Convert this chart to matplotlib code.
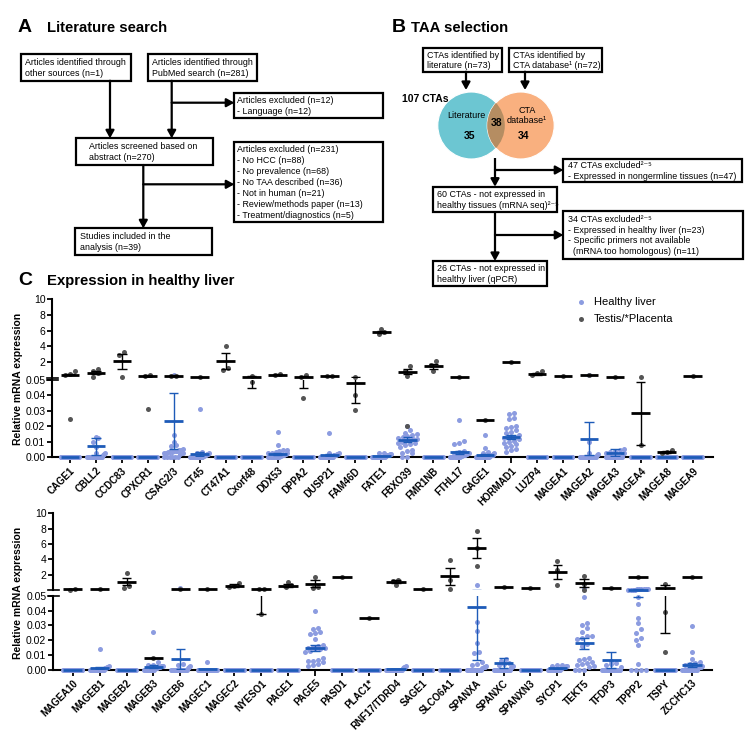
import matplotlib
matplotlib.use("Agg")  # headless
import matplotlib.pyplot as plt
import numpy as np
from matplotlib.patches import Rectangle, Circle

plt.rcParams["font.family"] = ["Liberation Sans", "DejaVu Sans"]

W, H = 755, 737

# ---------------- data: panel C, upper chart ----------------
cats_top = ["CAGE1", "CBLL2", "CCDC83", "CPXCR1", "CSAG2/3", "CT45", "CT47A1", "Cxorf48",
            "DDX53", "DPPA2", "DUSP21", "FAM46D", "FATE1", "FBXO39", "FMR1NB", "FTHL17",
            "GAGE1", "HORMAD1", "LUZP4", "MAGEA1", "MAGEA2", "MAGEA3", "MAGEA4", "MAGEA8", "MAGEA9"]

# healthy liver samples above zero (the rest of the n_liver samples are 0)
liver_top = [
    [],
    [0.0133, 0.0122, 0.0100, 0.0065, 0.0030, 0.0025, 0.0020, 0.0015],
    [],
    [],
    [0.43, 0.0145, 0.0100, 0.0082, 0.0070, 0.0052, 0.0046, 0.0044, 0.0042, 0.0040, 0.0038,
     0.0036, 0.0034, 0.0032, 0.0030, 0.0028, 0.0025, 0.0022],
    [0.031, 0.0035, 0.0030, 0.0025, 0.0022, 0.0020, 0.0016, 0.0014, 0.0010, 0.0010],
    [],
    [],
    [0.0166, 0.0082, 0.0050, 0.0045, 0.0040, 0.0035, 0.0030, 0.0028, 0.0025, 0.0020, 0.0018,
     0.0015, 0.0012, 0.0010],
    [],
    [0.0155, 0.0028, 0.0025, 0.0022, 0.0020, 0.0016, 0.0014, 0.0012, 0.0010],
    [],
    [0.0030, 0.0026, 0.0022, 0.0020, 0.0016, 0.0014, 0.0012, 0.0010],
    [0.0202, 0.0176, 0.0155, 0.0148, 0.0142, 0.0135, 0.0130, 0.0125, 0.0120, 0.0115, 0.0110,
     0.0105, 0.0100, 0.0095, 0.0090, 0.0085, 0.0080, 0.0065, 0.0050, 0.0040, 0.0030, 0.0025],
    [],
    [0.0240, 0.0105, 0.0092, 0.0085, 0.0040, 0.0032, 0.0028, 0.0025, 0.0022, 0.0020, 0.0016,
     0.0014, 0.0012, 0.0010],
    [0.0144, 0.0058, 0.0037, 0.0030, 0.0025, 0.0020, 0.0018, 0.0015, 0.0012, 0.0010],
    [0.0284, 0.0277, 0.0252, 0.0245, 0.0204, 0.0198, 0.0187, 0.0176, 0.0166, 0.0155, 0.0144,
     0.0133, 0.0127, 0.0122, 0.0116, 0.0107, 0.0101, 0.0095, 0.0085, 0.0075, 0.0065, 0.0055,
     0.0045, 0.0035],
    [],
    [],
    [0.35, 0.0100, 0.0026, 0.0020, 0.0015],
    [0.0052, 0.0047, 0.0040, 0.0035, 0.0030, 0.0025, 0.0020],
    [],
    [],
    [],
]
liver_mean_top = [0, 0.0070, 0, 0, 0.0232, 0.0020, 0, 0, 0.0022, 0, 0.0013, 0, 0.0007, 0.0112,
                  0, 0.0032, 0.0015, 0.0129, 0, 0, 0.0120, 0.0030, 0, 0, 0]
liver_sem_top = [0, 0.0053, 0, 0, 0.0180, 0.0013, 0, 0, 0.0008, 0, 0.0007, 0, 0.0002, 0.0016,
                 0, 0.0011, 0.0006, 0.0013, 0, 0, 0.0108, 0.0021, 0, 0, 0]

testis_top = [
    [0.025, 0.43, 0.55, 0.85], [0.17, 0.6, 0.94, 1.15], [0.1, 2.86, 3.3], [0.031, 0.2, 0.34],
    [0.2, 0.3], [0.17], [0.95, 1.3, 4.1], [0.0488, 0.2], [0.4, 0.45], [0.0385, 0.17, 0.34],
    [0.3, 0.3], [0.0303, 0.04, 0.13], [5.6, 5.85, 6.2], [0.0204, 0.3, 0.94, 1.45],
    [0.94, 1.7, 2.14], [0.17], [0.0243], [1.97], [0.43, 0.6, 0.94], [0.26], [0.43], [0.17],
    [0.008, 0.085], [0.0026, 0.0032, 0.0047], [0.26],
]
testis_mean_top = [0.43, 0.68, 2.1, 0.26, 0.26, 0.17, 2.14, 0.13, 0.43, 0.17, 0.3, 0.0477, 5.85,
                   0.77, 1.45, 0.17, 0.0243, 1.97, 0.51, 0.26, 0.43, 0.17, 0.0284, 0.0032, 0.26]
testis_sem_top = [0.1, 0.2, 1.0, 0.1, 0.05, 0, 1.05, 0.085, 0.02, 0.125, 0, 0.0129, 0.18, 0.33,
                  0.35, 0, 0, 0, 0.15, 0, 0, 0, 0.0202, 0.0006, 0]

# ---------------- data: panel C, lower chart ----------------
cats_bot = ["MAGEA10", "MAGEB1", "MAGEB2", "MAGEB3", "MAGEB6", "MAGEC1", "MAGEC2", "NYESO1",
            "PAGE1", "PAGE5", "PASD1", "PLAC1*", "RNF17/TDRD4", "SAGE1", "SLCO6A1", "SPANXA",
            "SPANXC", "SPANXN3", "SYCP1", "TEKT5", "TFDP3", "TPPP2", "TSPY", "ZCCHC13"]

liver_bot = [
    [],
    [0.0140, 0.0025, 0.0020, 0.0018, 0.0015, 0.0012, 0.0010],
    [],
    [0.0257, 0.0054, 0.0032, 0.0030, 0.0027, 0.0025, 0.0022, 0.0020, 0.0018, 0.0016, 0.0014,
     0.0012, 0.0010],
    [0.30, 0.0036, 0.0030, 0.0022, 0.0015, 0.0010],
    [0.0052],
    [],
    [],
    [],
    [0.0396, 0.0283, 0.0273, 0.0258, 0.0250, 0.0245, 0.0205, 0.0165, 0.0158, 0.0152, 0.0148,
     0.0145, 0.0142, 0.0138, 0.0130, 0.0118, 0.0078, 0.0068, 0.0060, 0.0058, 0.0050, 0.0042,
     0.0030, 0.0025],
    [],
    [],
    [0.0025, 0.0020, 0.0015, 0.0010],
    [],
    [],
    [0.69, 0.0325, 0.0264, 0.0183, 0.0122, 0.0110, 0.0050, 0.0040, 0.0030, 0.0025, 0.0020,
     0.0015, 0.0010],
    [0.0072, 0.0060, 0.0045, 0.0036, 0.0030, 0.0025, 0.0020, 0.0015],
    [],
    [0.0032, 0.0030, 0.0028, 0.0025, 0.0022, 0.0020, 0.0018, 0.0015, 0.0012, 0.0010],
    [0.30, 0.049, 0.0314, 0.0302, 0.0282, 0.0256, 0.0228, 0.0225, 0.0218, 0.0205, 0.0172,
     0.0163, 0.0077, 0.0072, 0.0068, 0.0054, 0.0045, 0.0036, 0.0030, 0.0025, 0.0020],
    [0.0060, 0.0045, 0.0036, 0.0030, 0.0020],
    [0.20, 0.16, 0.13, 0.11, 0.10, 0.09, 0.08, 0.07, 0.065, 0.06, 0.0495, 0.0445, 0.0348,
     0.0319, 0.0274, 0.0247, 0.0215, 0.0200, 0.0167, 0.0039],
    [],
    [0.0298, 0.0122, 0.0072, 0.0054, 0.0045, 0.0036, 0.0030, 0.0025, 0.0020, 0.0015, 0.0010],
]
liver_mean_bot = [0, 0.0010, 0, 0.0020, 0.0072, 0.0002, 0, 0, 0, 0.0145, 0, 0, 0.0003, 0, 0,
                  0.0425, 0.0047, 0, 0.0010, 0.0179, 0.0068, 0.075, 0, 0.0032]
liver_sem_bot = [0, 0.0006, 0, 0.0010, 0.0066, 0.0002, 0, 0, 0, 0.0020, 0, 0, 0.0001, 0, 0,
                 0.036, 0.0034, 0, 0.0002, 0.0036, 0.0054, 0.026, 0, 0.0013]

testis_bot = [
    [0.08, 0.1], [0.16], [0.34, 0.6, 2.2], [0.0079], [0.16], [0.16], [0.45, 0.6, 0.9],
    [0.0375, 0.12, 0.2], [0.43, 0.69, 1.03], [0.34, 0.47, 1.7], [1.69], [0.0348],
    [0.69, 1.25, 1.37], [0.16], [0.16, 1.38, 3.96], [3.2, 5.48, 7.7], [0.38], [0.34],
    [0.69, 2.57, 3.8], [0.08, 0.82, 1.82], [0.25], [1.73], [0.0118, 0.039, 0.77], [1.65],
]
testis_mean_bot = [0.09, 0.16, 1.12, 0.0079, 0.16, 0.16, 0.6, 0.12, 0.6, 0.86, 1.69, 0.0348,
                   1.12, 0.16, 1.82, 5.48, 0.38, 0.34, 2.35, 0.95, 0.25, 1.73, 0.34, 1.65]
testis_sem_bot = [0.01, 0, 0.5, 0, 0, 0, 0.15, 0.0825, 0.15, 0.4, 0, 0, 0.2, 0, 1.1, 1.3, 0, 0,
                  0.9, 0.5, 0, 0, 0.315, 0]

n_liver = 24
BREAK = 0.05

LIVER_DOT = "#8c9ce0"
LIVER_LINE = "#1d5bb8"
TESTIS_DOT = "#555555"
TESTIS_LINE = "black"


def px_axes(fig, left, top, right, bottom):
    """add axes from pixel box (y measured from the top)"""
    return fig.add_axes([left / W, 1 - bottom / H, (right - left) / W, (bottom - top) / H])


def swarm(vals, to_px, d_px, px_per_cat, half=0.36):
    """simple column-scatter layout: bin close values into rows and spread each row"""
    vals = np.asarray(vals, float)
    ypx = np.array([to_px(v) for v in vals])
    order = np.argsort(ypx, kind="stable")
    rows = []
    for i in order:
        if rows and ypx[i] - ypx[rows[-1][0]] < d_px * 0.8:
            rows[-1].append(i)
        else:
            rows.append([i])
    offs = np.zeros(len(vals))
    for row in rows:
        n = len(row)
        step = d_px / px_per_cat
        if n > 1:
            step = min(step, 2 * half / (n - 1))
        for k, i in enumerate(row):
            offs[i] = (k - (n - 1) / 2) * step
    return offs


def draw_group(ax_t, ax_b, i, vals, mean, sem, dot_c, line_c, to_px, px_per_cat, lw_mean):
    vals = np.asarray(vals, float)
    offs = swarm(vals, to_px, 5.0, px_per_cat)
    x = i + offs
    lo = vals <= BREAK
    h1 = ax_b.scatter(x[lo], vals[lo], s=13, color=dot_c, lw=0, clip_on=False, zorder=3)
    ax_t.scatter(x[~lo], vals[~lo], s=13, color=dot_c, lw=0, clip_on=False, zorder=3)
    # mean line
    ax_m = ax_b if mean <= BREAK else ax_t
    ax_m.hlines(mean, i - 0.36, i + 0.36, color=line_c, lw=lw_mean, clip_on=False, zorder=4)
    if sem > 0:
        lo_v, hi_v = max(mean - sem, 0), mean + sem
        for ax in (ax_t, ax_b):
            ax.vlines(i, lo_v, hi_v, color=line_c, lw=1.0, zorder=4)
        for v in (lo_v, hi_v):
            ax_c = ax_b if v <= BREAK else ax_t
            ax_c.hlines(v, i - 0.18, i + 0.18, color=line_c, lw=1.0, zorder=4)
    return h1


def expression_chart(fig, box, gap, cats, liver, liver_mean, liver_sem,
                     testis, testis_mean, testis_sem, xlim):
    left, top, right, bottom, mid = box
    ax_t = px_axes(fig, left, top, right, mid)
    ax_b = px_axes(fig, left, mid + gap, right, bottom)
    h_top = mid - top
    h_bot = bottom - mid - gap
    px_per_cat = (right - left) / (xlim[1] - xlim[0])

    def to_px(v):
        if v <= BREAK:
            return v / BREAK * h_bot
        return h_bot + gap + v / 10 * h_top

    handles = None
    for i in range(len(cats)):
        vals = list(liver[i]) + [0.0] * (n_liver - len(liver[i]))
        hl = draw_group(ax_t, ax_b, i, vals, liver_mean[i], liver_sem[i],
                        LIVER_DOT, LIVER_LINE, to_px, px_per_cat, 2.0)
        ht = draw_group(ax_t, ax_b, i, testis[i], testis_mean[i], testis_sem[i],
                        TESTIS_DOT, TESTIS_LINE, to_px, px_per_cat, 2.0)
        if handles is None:
            handles = (hl, ht)

    for ax in (ax_t, ax_b):
        ax.set_xlim(*xlim)
        ax.spines[["top", "right"]].set_visible(False)
        ax.spines["left"].set_linewidth(1.5)
        ax.spines["bottom"].set_linewidth(1.5)
        ax.tick_params(axis="y", length=3.5, width=1.3, labelsize=7.5, pad=1.5)
    ax_t.set_ylim(BREAK, 10)
    ax_t.set_yticks([2, 4, 6, 8, 10])
    ax_t.spines["bottom"].set_visible(False)
    ax_t.tick_params(axis="x", bottom=False, labelbottom=False)
    ax_b.set_ylim(0, BREAK)
    ax_b.set_yticks([0, 0.01, 0.02, 0.03, 0.04, 0.05])
    ax_b.set_yticklabels(["0.00", "0.01", "0.02", "0.03", "0.04", "0.05"])
    ax_b.set_xticks(range(len(cats)))
    ax_b.set_xticklabels(cats, rotation=45, ha="right", va="top", rotation_mode="anchor",
                         fontsize=7, fontweight="bold")
    ax_b.tick_params(axis="x", length=4, width=1.3, pad=2)
    # axis break marks
    for ax, yy in ((ax_t, 0.0), (ax_b, 1.0)):
        ax.plot([-0.008, 0.008], [yy, yy], transform=ax.transAxes, color="black",
                lw=1.2, clip_on=False)
    return handles


fig = plt.figure(figsize=(W / 100, H / 100), dpi=100)

# ---------------- flow charts (panels A and B) in pixel coordinates ----------------
ax0 = fig.add_axes([0, 0, 1, 1])
ax0.set_xlim(0, W)
ax0.set_ylim(H, 0)
ax0.axis("off")

BOX_FS = 6.4


def box(x0, y0, x1, y1, text, pad=4):
    ax0.add_patch(Rectangle((x0, y0), x1 - x0, y1 - y0, fill=False, lw=1.6, ec="black"))
    ax0.text(x0 + pad, (y0 + y1) / 2 + 0.5, text, fontsize=BOX_FS, ha="left", va="center",
             linespacing=1.28)


def arrow(x0, y0, x1, y1):
    ax0.annotate("", xy=(x1, y1), xytext=(x0, y0),
                 arrowprops=dict(arrowstyle="-|>,head_length=0.45,head_width=0.25",
                                 lw=1.6, color="black", shrinkA=0, shrinkB=0,
                                 mutation_scale=10))


def line(x0, y0, x1, y1):
    ax0.plot([x0, x1], [y0, y1], color="black", lw=1.6, solid_capstyle="butt")


# panel A
fig.text(18 / W, 1 - 27 / H, "A", fontsize=14, fontweight="bold", va="center")
fig.text(47 / W, 1 - 28 / H, "Literature search", fontsize=10.7, fontweight="bold", va="center")
box(20.7, 54.3, 130.7, 80.7, "Articles identified through\nother sources (n=1)")
box(148.3, 54.3, 256.7, 80.7, "Articles identified through\nPubMed search (n=281)")
box(234.3, 93.3, 383, 118.3, "Articles excluded (n=12)\n- Language (n=12)", pad=2.5)
box(76, 138.3, 213.3, 165, "Articles screened based on\nabstract (n=270)", pad=13)
box(234.3, 141.7, 383, 221.7,
    "Articles excluded (n=231)\n- No HCC (n=88)\n- No prevalence (n=68)\n"
    "- No TAA described (n=36)\n- Not in human (n=21)\n- Review/methods paper (n=13)\n"
    "- Treatment/diagnostics (n=5)", pad=2.5)
box(75, 228.3, 211.7, 255, "Studies included in the\nanalysis (n=39)", pad=5)
arrow(110, 80.7, 110, 138.3)
arrow(171.7, 80.7, 171.7, 138.3)
arrow(171.7, 102.7, 234.3, 102.7)
arrow(143.3, 165, 143.3, 228.3)
arrow(143.3, 184.3, 234.3, 184.3)

# panel B
fig.text(392 / W, 1 - 28 / H, "B", fontsize=14, fontweight="bold", va="center")
fig.text(411 / W, 1 - 28 / H, "TAA selection", fontsize=10.7, fontweight="bold", va="center")
box(423.3, 48.3, 501.7, 71.7, "CTAs identified by\nliterature (n=73)")
box(509.3, 48.3, 601.7, 71.7, "CTAs identified by\nCTA database\u00b9 (n=72)")
arrow(466, 71.7, 466, 90)
arrow(525, 71.7, 525, 90)

c_left = Circle((471.3, 125.5), 33.5, color="#6cc6d2", ec="white", lw=0.8)
c_right = Circle((520.7, 125.5), 33.5, color="#f9b07f", ec="white", lw=0.8)
ax0.add_patch(c_left)
ax0.add_patch(c_right)
c_both = Circle((471.3, 125.5), 33.5, color="#b58d62", lw=0)
ax0.add_patch(c_both)
c_both.set_clip_path(Circle((520.7, 125.5), 33.5, transform=ax0.transData))
ax0.text(401.7, 98.5, "107 CTAs", fontsize=7.5, fontweight="bold", ha="left", va="center")
ax0.text(466.7, 115.3, "Literature", fontsize=6.5, ha="center", va="center")
ax0.text(527, 115.5, "CTA\ndatabase\u00b9", fontsize=6.5, ha="center", va="center",
         linespacing=1.2)
for xx, yy, s in ((470, 136, "35"), (496.7, 122.7, "38"), (523.3, 136, "34")):
    ax0.text(xx, yy, s, fontsize=7.5, fontweight="bold", ha="center", va="center")

line(495, 158, 495, 170)
arrow(495, 170, 495, 186.7)
arrow(495, 170, 563.3, 170)
box(563.3, 159, 741.7, 181.7,
    "47 CTAs excluded\u00b2\u207b\u2075\n- Expressed in nongermline tissues (n=47)", pad=5)
box(433.3, 186.7, 556.7, 211.7,
    "60 CTAs - not expressed in\nhealthy tissues (mRNA seq)\u00b2\u207b\u2075", pad=3.4)
line(495, 211.7, 495, 235)
arrow(495, 235, 495, 261)
arrow(495, 235, 563.3, 235)
box(563.3, 210.7, 742.7, 259.3,
    "34 CTAs excluded\u00b2\u207b\u2075\n- Expressed in healthy liver (n=23)\n"
    "- Specific primers not available\n  (mRNA too homologous) (n=11)", pad=5)
box(433.3, 261, 546.7, 285.7, "26 CTAs - not expressed in\nhealthy liver (qPCR)", pad=3.4)

# ---------------- panel C ----------------
fig.text(18 / W, 1 - 280 / H, "C", fontsize=14, fontweight="bold", va="center")
fig.text(47 / W, 1 - 281 / H, "Expression in healthy liver", fontsize=10.7,
         fontweight="bold", va="center")

handles = expression_chart(fig, (52.3, 299.3, 712.7, 457.3, 377.5), 2.3, cats_top,
                           liver_top, liver_mean_top, liver_sem_top,
                           testis_top, testis_mean_top, testis_sem_top, (-0.68, 24.77))
expression_chart(fig, (53.3, 513.3, 711.7, 669.7, 589.8), 6.1, cats_bot,
                 liver_bot, liver_mean_bot, liver_sem_bot,
                 testis_bot, testis_mean_bot, testis_sem_bot, (-0.72, 23.73))

for yc in (378.5, 592.5):
    fig.text(18 / W, 1 - yc / H, "Relative mRNA expression", rotation=90, fontsize=7.5,
             fontweight="bold", ha="center", va="center")

fig.legend(handles, ["Healthy liver", "Testis/*Placenta"], loc="upper left",
           bbox_to_anchor=(574 / W, 1 - 297 / H), frameon=False, fontsize=8,
           handletextpad=0.6, labelspacing=0.6, borderpad=0, borderaxespad=0,
           handlelength=1.2, markerscale=1.0)

fig.savefig("out.png", dpi=100)
